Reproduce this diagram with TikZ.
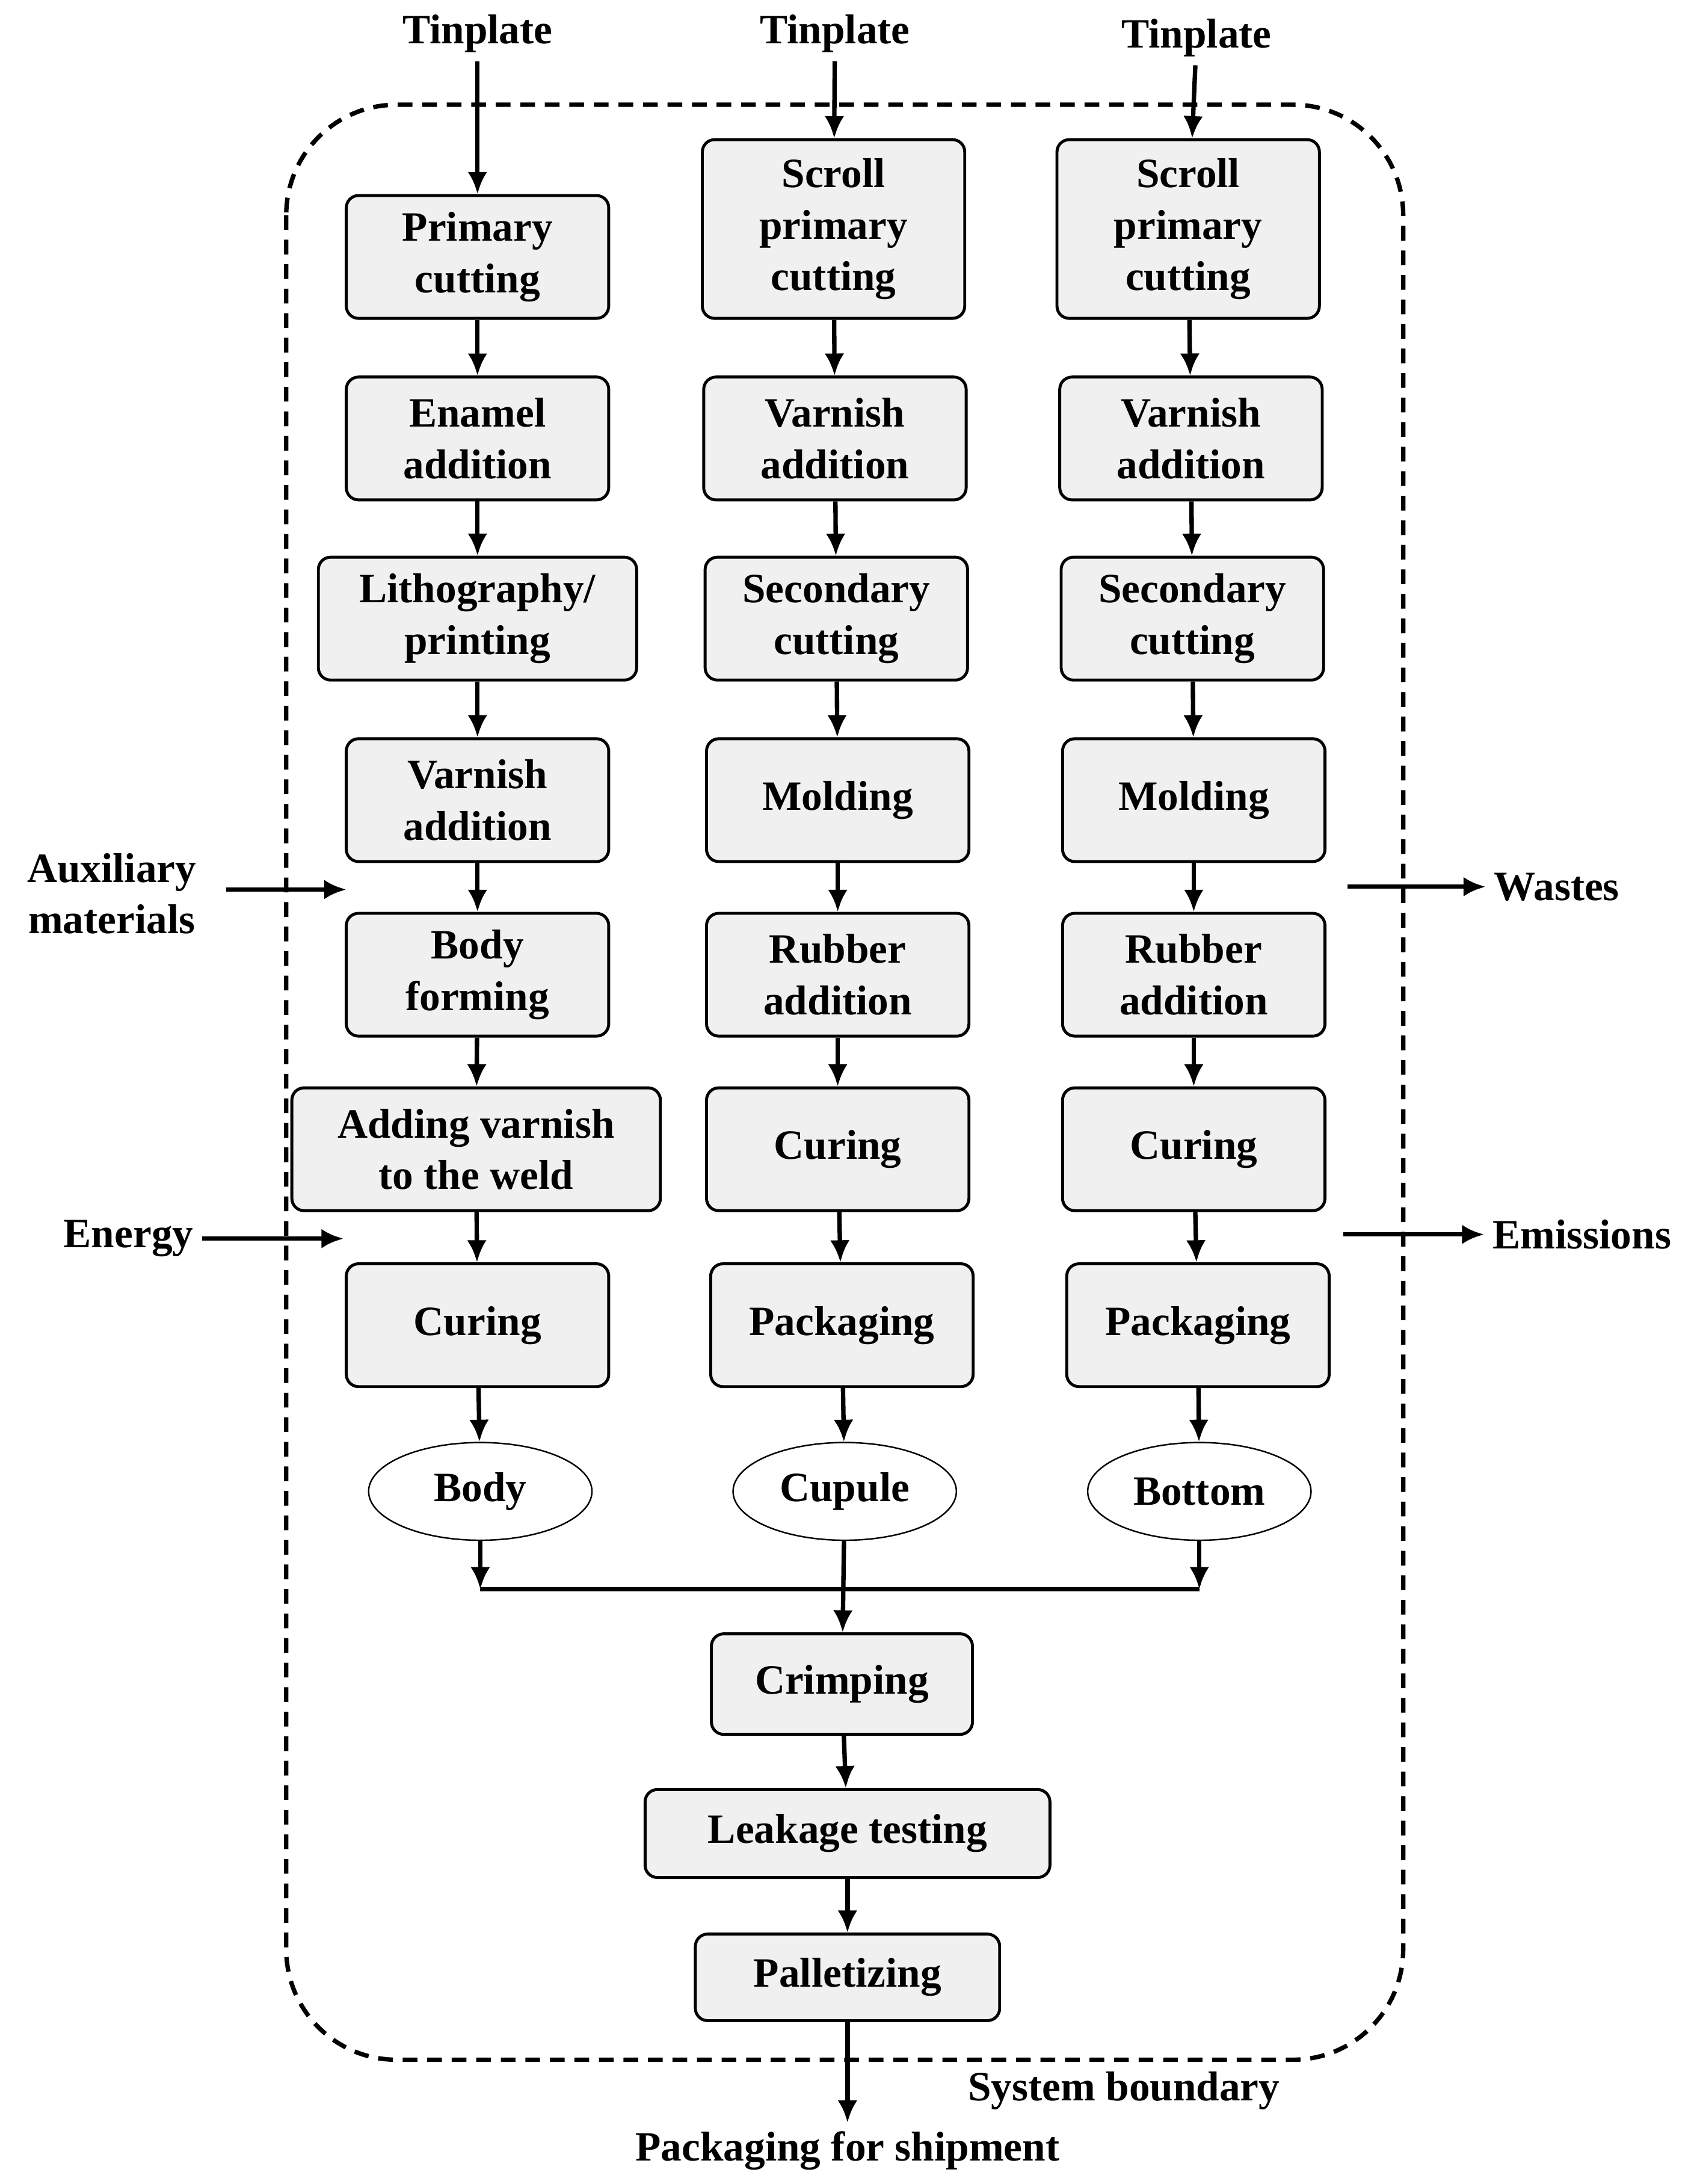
\documentclass[tikz,border=0pt]{standalone}
\usepackage{fontspec}
\setmainfont{Liberation Serif}
\usetikzlibrary{arrows.meta,shapes.geometric,positioning}
\begin{document}
\begin{tikzpicture}[x=0.02cm,y=-0.02cm,
  every node/.style={font=\fontsize{17}{21}\selectfont\bfseries},
  proc/.style={draw,line width=1.2pt,fill=gray!12,rounded corners=5pt,align=center,minimum width=3.76cm,minimum height=1.76cm,inner sep=2pt},
  prod/.style={draw,ellipse,line width=0.6pt,minimum width=3.2cm,minimum height=1.4cm},
  flow/.style={-{Latex[length=9pt,width=8pt]},line width=1.8pt},
  lbl/.style={align=center}]
\useasboundingbox (0,0) rectangle (1213,1564);
% boundary
\draw[line width=1.8pt,dash pattern=on 6pt off 4pt,rounded corners=45pt] (205,75) rectangle (1005,1475);
\node[lbl] at (805,1497) {System boundary};
% column 1: body
\node[lbl] (t1) at (342,24) {Tinplate};
\node[proc] (a1) at (342,184) {Primary\\cutting};
\node[proc] (a2) at (342,314) {Enamel\\addition};
\node[proc,minimum width=4.56cm] (a3) at (342,443) {Lithography/\\printing};
\node[proc] (a4) at (342,573) {Varnish\\addition};
\node[proc] (a5) at (342,698) {Body\\forming};
\node[proc,minimum width=5.28cm] (a6) at (341,823) {Adding varnish\\to the weld};
\node[proc] (a7) at (342,949) {Curing};
\node[prod] (e1) at (344,1068) {Body};
% column 2: cupule
\node[lbl] (t2) at (598,24) {Tinplate};
\node[proc,minimum height=2.56cm] (b1) at (597,164) {Scroll\\primary\\cutting};
\node[proc] (b2) at (598,314) {Varnish\\addition};
\node[proc] (b3) at (599,443) {Secondary\\cutting};
\node[proc] (b4) at (600,573) {Molding};
\node[proc] (b5) at (600,698) {Rubber\\addition};
\node[proc] (b6) at (600,823) {Curing};
\node[proc] (b7) at (603,949) {Packaging};
\node[prod] (e2) at (605,1068) {Cupule};
% column 3: bottom
\node[lbl] (t3) at (857,27) {Tinplate};
\node[proc,minimum height=2.56cm] (c1) at (851,164) {Scroll\\primary\\cutting};
\node[proc] (c2) at (853,314) {Varnish\\addition};
\node[proc] (c3) at (854,443) {Secondary\\cutting};
\node[proc] (c4) at (855,573) {Molding};
\node[proc] (c5) at (855,698) {Rubber\\addition};
\node[proc] (c6) at (855,823) {Curing};
\node[proc] (c7) at (858,949) {Packaging};
\node[prod] (e3) at (859,1068) {Bottom};
% assembly
\node[proc,minimum width=3.74cm,minimum height=1.44cm] (d1) at (603,1206) {Crimping};
\node[proc,minimum width=5.8cm,minimum height=1.26cm] (d2) at (607,1313) {Leakage testing};
\node[proc,minimum width=4.36cm,minimum height=1.24cm] (d3) at (607,1416) {Palletizing};
\node[lbl] (out) at (607,1540) {Packaging for shipment};
% flows
\foreach \c/\t in {a/t1,b/t2,c/t3} {
  \draw[flow] (\t) -- (\c1);
  \foreach \i/\j in {1/2,2/3,3/4,4/5,5/6,6/7}
    \draw[flow] (\c\i) -- (\c\j);
}
\draw[flow] (a7) -- (e1);
\draw[flow] (b7) -- (e2);
\draw[flow] (c7) -- (e3);
\coordinate (m1) at (344,1138);
\coordinate (m3) at (859,1138);
\draw[flow] (e1) -- (m1);
\draw[flow] (e3) -- (m3);
\draw[line width=1.8pt] (m1) -- (m3);
\draw[flow] (e2) -- (d1);
\draw[flow] (d1) -- (d2);
\draw[flow] (d2) -- (d3);
\draw[flow] (d3) -- (out);
% inputs and outputs
\node[lbl] (aux) at (80,640) {Auxiliary\\materials};
\coordinate (auxs) at (162,637);
\coordinate (auxe) at (248,637);
\draw[flow] (auxs) -- (auxe);
\node[lbl] (en) at (92,887) {Energy};
\coordinate (ene) at (246,887);
\draw[flow] (en) -- (ene);
\node[lbl] (wa) at (1115,635) {Wastes};
\coordinate (was) at (965,635);
\draw[flow] (was) -- (wa);
\node[lbl] (em) at (1133,884) {Emissions};
\coordinate (ems) at (962,884);
\draw[flow] (ems) -- (em);
\end{tikzpicture}
\end{document}
